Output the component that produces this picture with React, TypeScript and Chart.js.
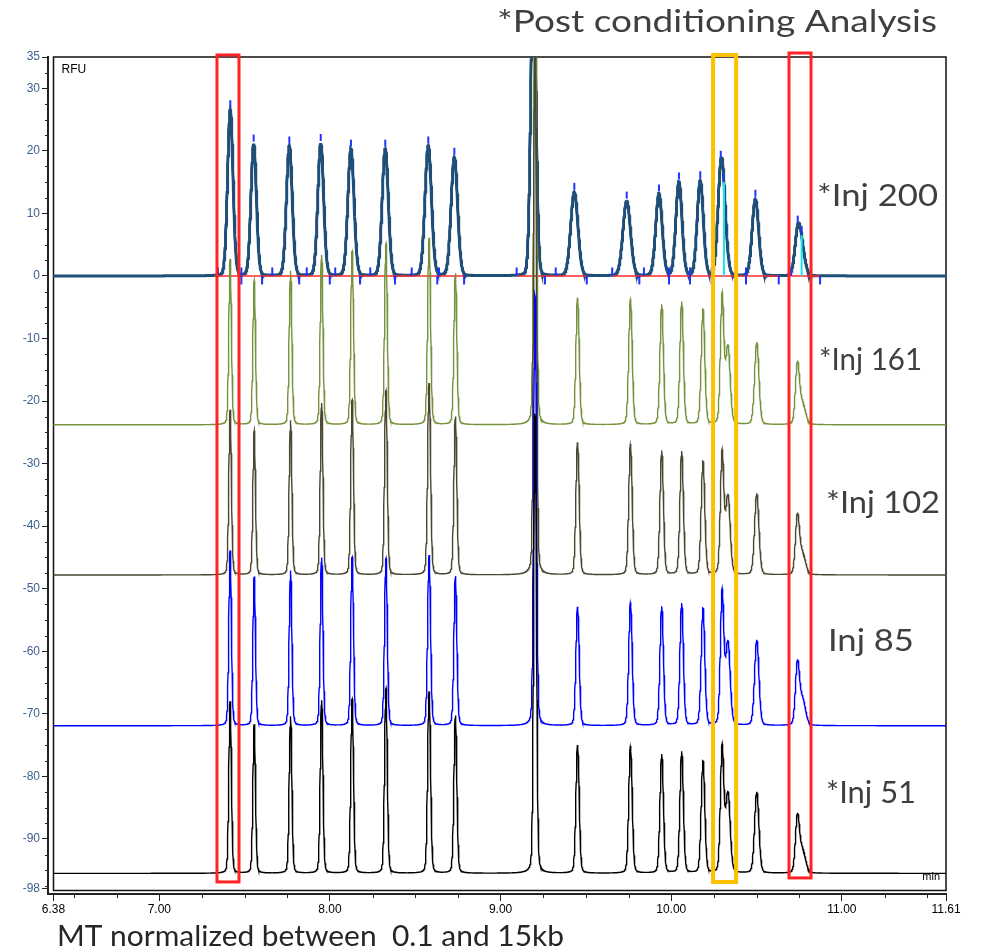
import React, { useEffect, useRef } from "react";
import { Chart, registerables } from "chart.js";

Chart.register(...registerables);

// ---- axes ----
const X_MIN = 6.38;
const X_MAX = 11.61;
const Y_MIN = -98;
const Y_MAX = 35;
const xTickValues = [6.38, 7, 8, 9, 10, 11, 11.61];
const xTickLabels = ["6.38", "7.00", "8.00", "9.00", "10.00", "11.00", "11.61"];
const yTickValues = [35, 30, 20, 10, 0, -10, -20, -30, -40, -50, -60, -70, -80, -90, -98];
const yTickLabels = ["35", "30", "20", "10", "0", "-10", "-20", "-30", "-40", "-50", "-60", "-70", "-80", "-90", "-98"];

// ---- injections (top to bottom) ----
const injNames = ["*Inj 200", "*Inj 161", "*Inj 102", "Inj 85", "*Inj 51"];
const injBaselines = [0, -23.8, -47.8, -71.9, -95.5];
const injColors = ["#1f4e79", "#76923c", "#4a4630", "#0000ff", "#000000"];

// ---- Inj 200: integrated run (min, RFU) ----
const times200 = [7.416, 7.553, 7.762, 7.946, 8.123, 8.324, 8.576, 8.729, 9.192, 9.432, 9.739, 9.928, 10.045, 10.17, 10.29, 10.309, 10.493, 10.741, 10.764];
const heights200 = [26.6, 21.1, 20.8, 21.2, 20.3, 20.3, 20.8, 19.0, 50, 13.4, 12.0, 13.1, 15.0, 15.2, 14.8, 6.4, 12.3, 6.2, 3.8];
const widths200 = [0.016, 0.016, 0.017, 0.017, 0.018, 0.018, 0.019, 0.019, 0.015, 0.021, 0.022, 0.019, 0.018, 0.018, 0.018, 0.018, 0.019, 0.0176, 0.02];
const peakStarts200 = [7.344, 7.481, 7.662, 7.864, 8.031, 8.236, 8.479, 8.639, 9.094, 9.323, 9.654, 9.84, 9.987, 10.11, 10.237, 10.438, 10.702];
const peakEnds200 = [7.481, 7.602, 7.82, 7.999, 8.176, 8.381, 8.629, 8.786, 9.26, 9.505, 9.813, 9.987, 10.11, 10.237, 10.438, 10.63, 10.872];
const shoulderDrops200 = [10.309, 10.764];
const baselineSegStart = [7.344, 9.094, 9.654, 10.702];
const baselineSegEnd = [8.786, 9.505, 10.63, 10.872];

// ---- Inj 161 / 102 / 85 / 51 (heights above each trace's own baseline) ----
const timesLower = [7.415, 7.556, 7.769, 7.951, 8.13, 8.328, 8.581, 8.735, 9.202, 9.451, 9.761, 9.944, 10.061, 10.186, 10.298, 10.332, 10.501, 10.739, 10.768];
const widthsLower = [0.0075, 0.0075, 0.0078, 0.0078, 0.008, 0.008, 0.0085, 0.0085, 0.008, 0.0095, 0.01, 0.01, 0.01, 0.0105, 0.01, 0.013, 0.0125, 0.0115, 0.018];
const heights161 = [26.5, 23.0, 24.6, 27.2, 27.8, 29.0, 29.9, 24.2, 75, 20.3, 20.1, 19.2, 19.6, 18.4, 20.4, 12.4, 13.2, 9.2, 3.4];
const heights102 = [26.4, 23.0, 24.7, 27.5, 28.0, 29.5, 30.7, 25.3, 90, 21.2, 20.9, 19.8, 19.7, 18.1, 19.3, 12.5, 13.0, 8.9, 3.4];
const heights85 = [28.0, 23.8, 24.8, 26.9, 27.0, 26.8, 27.3, 23.9, 69, 19.0, 19.7, 19.0, 19.5, 18.7, 21.1, 13.2, 13.7, 9.3, 4.2];
const heights51 = [27.5, 23.8, 25.1, 27.7, 27.9, 29.6, 29.1, 25.2, 73.6, 20.5, 20.3, 19.0, 19.4, 17.9, 19.9, 12.7, 13.0, 8.5, 3.7];

// ---- highlight windows (min) ----
const boxStarts = [7.338, 10.245, 10.69];
const boxEnds = [7.467, 10.38, 10.819];
const boxTops = [35.32, 35.32, 35.64];
const boxBottoms = [-96.87, -96.87, -96.23];
const boxColors = ["#ff2323", "#ffc000", "#ff2323"];

const PX_PER_MIN = 170.65;
const PX_PER_RFU = 6.2556;
const STEP = 0.0015;

type Pt = { x: number; y: number | null };

// pseudo-Voigt peak: gaussian core with a small lorentzian skirt
function peakValue(t: number, t0: number, h: number, s: number, eta: number): number {
  const d = t - t0;
  const g = Math.exp(-(d * d) / (2 * s * s));
  const gam = 1.5 * s;
  const l = (gam * gam) / (gam * gam + d * d);
  return h * ((1 - eta) * g + eta * l);
}

function makeTrace(times: number[], heights: number[], widths: number[], base: number, eta: number) {
  return (t: number) => {
    let v = base;
    for (let i = 0; i < times.length; i++) v += peakValue(t, times[i], heights[i], widths[i], eta);
    return v;
  };
}

function sample(fn: (t: number) => number): Pt[] {
  const pts: Pt[] = [];
  const n = Math.round((X_MAX - X_MIN) / STEP);
  for (let i = 0; i <= n; i++) {
    const t = X_MIN + i * STEP;
    pts.push({ x: t, y: fn(t) });
  }
  return pts;
}

function fitText(ctx: CanvasRenderingContext2D, text: string, x: number, y: number, width: number, font: string, color: string) {
  ctx.save();
  ctx.font = font;
  ctx.fillStyle = color;
  ctx.textBaseline = "middle";
  ctx.textAlign = "left";
  const w = ctx.measureText(text).width;
  ctx.translate(x, y);
  ctx.scale(width / w, 1);
  ctx.fillText(text, 0, 0);
  ctx.restore();
}

export default function App() {
  const canvasRef = useRef<HTMLCanvasElement | null>(null);

  useEffect(() => {
    const canvas = canvasRef.current;
    if (!canvas) return;

    const trace200 = makeTrace(times200, heights200, widths200, injBaselines[0], 0.05);
    const lowerHeights = [heights161, heights102, heights85, heights51];
    const lowerTraces = lowerHeights.map((h, i) => makeTrace(timesLower, h, widthsLower, injBaselines[i + 1], 0.12));

    const redBase: Pt[] = [];
    baselineSegStart.forEach((a, i) => {
      redBase.push({ x: a, y: 0 }, { x: baselineSegEnd[i], y: 0 }, { x: baselineSegEnd[i], y: null });
    });
    const drops: Pt[] = [];
    shoulderDrops200.forEach((t) => {
      drops.push({ x: t, y: 0 }, { x: t, y: trace200(t) }, { x: t, y: null });
    });
    const tickHalf = 4.25 / PX_PER_RFU;
    const apexMarks: Pt[] = times200.map((t) => ({ x: t, y: trace200(t) + 5.5 / PX_PER_RFU }));
    const startMarks: Pt[] = peakStarts200.map((t) => ({ x: t, y: tickHalf }));
    const endMarks: Pt[] = peakEnds200.map((t) => ({ x: t, y: -tickHalf }));

    const markerStyle = (data: Pt[], r: number, order: number) => ({
      type: "line" as const,
      data,
      showLine: false,
      pointStyle: "line" as const,
      rotation: 90,
      pointRadius: r,
      pointBorderColor: "#2233ff",
      pointBorderWidth: 2,
      pointBackgroundColor: "#2233ff",
      order,
    });

    const datasets: any[] = [
      {
        label: injNames[0],
        data: sample(trace200),
        borderColor: injColors[0],
        borderWidth: 3,
        pointRadius: 0,
        order: 10,
      },
      { label: "baseline", data: redBase, borderColor: "#ff2b2b", borderWidth: 1.5, pointRadius: 0, spanGaps: false, order: 9 },
      { label: "drop", data: drops, borderColor: "#19e6f0", borderWidth: 2, pointRadius: 0, spanGaps: false, order: 8 },
      markerStyle(apexMarks, 3.5, 7),
      markerStyle(startMarks, 4.25, 7),
      markerStyle(endMarks, 4.25, 7),
    ];
    lowerTraces.forEach((fn, i) => {
      datasets.push({
        label: injNames[i + 1],
        data: sample(fn),
        borderColor: injColors[i + 1],
        borderWidth: 1.4,
        pointRadius: 0,
        order: 5 - i,
      });
    });

    const xAxisMin = X_MIN - 5.5 / PX_PER_MIN;
    const yAxisMin = Y_MIN - 5 / PX_PER_RFU;

    const decor = {
      id: "decor",
      beforeDatasetsDraw(chart: any) {
        const { ctx, chartArea, scales } = chart;
        const xs = scales.x;
        const ys = scales.y;
        ctx.save();
        // plot frame
        const left = xs.getPixelForValue(X_MIN);
        const bottom = ys.getPixelForValue(Y_MIN) + 1.5;
        ctx.strokeStyle = "#111";
        ctx.lineWidth = 1.5;
        ctx.strokeRect(left, chartArea.top, chartArea.right - left, bottom - chartArea.top);
        // minor ticks
        ctx.strokeStyle = "#222";
        ctx.lineWidth = 1;
        for (let v = 6.5; v < X_MAX; v += 0.25) {
          if (Math.abs(v - Math.round(v)) < 1e-6) continue;
          const px = Math.round(xs.getPixelForValue(v)) + 0.5;
          ctx.beginPath();
          ctx.moveTo(px, chartArea.bottom);
          ctx.lineTo(px, chartArea.bottom + 4);
          ctx.stroke();
        }
        for (let v = 32.5; v > Y_MIN; v -= 2.5) {
          if (Math.abs(v / 10 - Math.round(v / 10)) < 1e-6) continue;
          const py = Math.round(ys.getPixelForValue(v)) + 0.5;
          ctx.beginPath();
          ctx.moveTo(chartArea.left - 3, py);
          ctx.lineTo(chartArea.left, py);
          ctx.stroke();
        }
        // small axis captions
        ctx.fillStyle = "#000";
        ctx.font = "12px 'Liberation Sans', Arial, sans-serif";
        ctx.textBaseline = "middle";
        ctx.textAlign = "left";
        ctx.fillText("RFU", left + 8, chartArea.top + 13);
        ctx.font = "11px 'Liberation Sans', Arial, sans-serif";
        ctx.textAlign = "right";
        ctx.fillText("min", chartArea.right - 6, ys.getPixelForValue(Y_MIN) - 12);
        ctx.restore();
      },
      afterDraw(chart: any) {
        const { ctx, scales } = chart;
        const xs = scales.x;
        const ys = scales.y;
        ctx.save();
        // highlight windows
        boxStarts.forEach((a, i) => {
          const x1 = xs.getPixelForValue(a);
          const x2 = xs.getPixelForValue(boxEnds[i]);
          const y1 = ys.getPixelForValue(boxTops[i]);
          const y2 = ys.getPixelForValue(boxBottoms[i]);
          ctx.strokeStyle = boxColors[i];
          ctx.lineWidth = boxColors[i] === "#ffc000" ? 4 : 3;
          ctx.strokeRect(x1, y1, x2 - x1, y2 - y1);
        });
        ctx.restore();

        // injection labels
        const labelX = [10.854, 10.866, 10.907, 10.918, 10.907];
        const labelY = [12.78, -13.44, -36.3, -58.36, -82.65];
        const labelW = [121, 103, 114, 86, 90];
        const font = "400 30px Lato, 'Open Sans', sans-serif";
        injNames.forEach((name, i) => {
          fitText(ctx, name, xs.getPixelForValue(labelX[i]), ys.getPixelForValue(labelY[i]), labelW[i], font, "#3f3f3f");
        });
        // headline and x caption
        fitText(ctx, "*Post conditioning Analysis", 497, 22, 440, "400 30px Lato, 'Open Sans', sans-serif", "#3f3f3f");
        fitText(ctx, "MT normalized between  0.1 and 15kb", 57, 937, 507, "400 28px Lato, 'Open Sans', sans-serif", "#262626");
      },
    };

    const chart = new Chart(canvas, {
      type: "line",
      data: { datasets },
      options: {
        animation: false,
        responsive: false,
        maintainAspectRatio: false,
        devicePixelRatio: 1,
        events: [],
        layout: { padding: { top: 57, right: 36, left: 0, bottom: 0 } },
        plugins: { legend: { display: false }, tooltip: { enabled: false }, title: { display: false } },
        elements: { line: { tension: 0 } },
        scales: {
          x: {
            type: "linear",
            min: xAxisMin,
            max: X_MAX,
            afterFit: (s: any) => {
              s.height = 56;
            },
            afterBuildTicks: (s: any) => {
              s.ticks = xTickValues.map((v) => ({ value: v }));
            },
            ticks: {
              autoSkip: false,
              maxRotation: 0,
              padding: 1,
              color: "#000",
              font: { family: "'Liberation Sans', Arial, sans-serif", size: 12 },
              callback: (v: any) => {
                const i = xTickValues.findIndex((t) => Math.abs(t - Number(v)) < 1e-6);
                return i >= 0 ? xTickLabels[i] : "";
              },
            },
            grid: { drawOnChartArea: false, drawTicks: true, tickLength: 7, tickColor: "#222", tickWidth: 1 },
            border: { display: true, color: "#222", width: 2 },
          },
          y: {
            type: "linear",
            min: yAxisMin,
            max: Y_MAX,
            afterFit: (s: any) => {
              s.width = 48;
            },
            afterBuildTicks: (s: any) => {
              s.ticks = yTickValues.map((v) => ({ value: v }));
            },
            ticks: {
              autoSkip: false,
              padding: 2,
              color: "#3d6190",
              font: { family: "'Liberation Sans', Arial, sans-serif", size: 12 },
              callback: (v: any) => {
                const i = yTickValues.findIndex((t) => Math.abs(t - Number(v)) < 1e-6);
                return i >= 0 ? yTickLabels[i] : "";
              },
            },
            grid: { drawOnChartArea: false, drawTicks: true, tickLength: 6, tickColor: "#222", tickWidth: 1 },
            border: { display: true, color: "#222", width: 2 },
          },
        },
      },
      plugins: [decor],
    });

    return () => chart.destroy();
  }, []);

  return (
    <div style={{ position: "fixed", left: 0, top: 0, width: 982, height: 950, background: "#fff" }}>
      <canvas ref={canvasRef} width={982} height={950} style={{ display: "block", width: 982, height: 950 }} />
    </div>
  );
}
